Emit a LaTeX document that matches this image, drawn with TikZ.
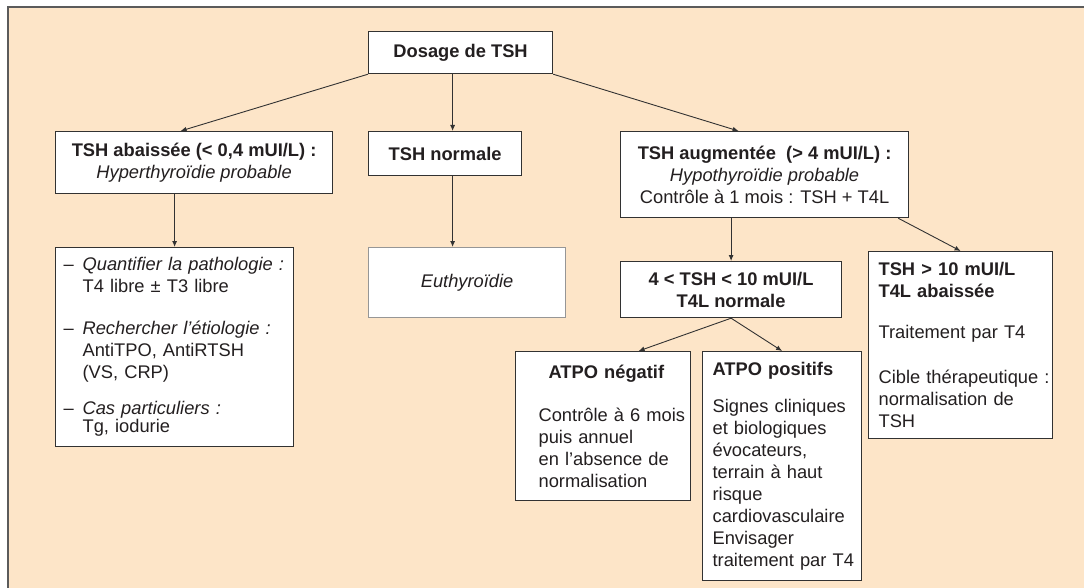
\documentclass[tikz,border=0pt]{standalone}
\usepackage{fontspec}
\setmainfont{Liberation Sans}
\usetikzlibrary{arrows.meta}

\definecolor{peach}{RGB}{253,229,200}
\definecolor{ink}{RGB}{35,31,32}
\definecolor{rule}{RGB}{50,50,50}
\definecolor{lightrule}{RGB}{150,150,150}

\tikzset{
	box/.style={draw=rule, line width=1.2pt, fill=white, anchor=north west, inner sep=0pt, text=ink, font=\fontsize{18.3}{22}\selectfont},
	link/.style={draw=rule, line width=0.9pt, -{Latex[length=6pt,width=5pt]}},
	frame/.style={draw=rule!80, line width=1.2pt}
}

\begin{document}
\begin{tikzpicture}[x=1pt,y=-1pt]
		\useasboundingbox (0,0) rectangle (1084,588);
		\fill[peach] (8,7) rectangle (1084,588);
		\draw[frame] (8,588) -- (8,7) -- (1084,7);
		\node[box, minimum width=184, minimum height=42] (dosage) at (368,31) {\bfseries Dosage de TSH};
		\node[box, minimum width=277, minimum height=62, align=center] (bas) at (55,131) {{\bfseries TSH abaissée (< 0,4 mUI/L) :}\\{\itshape Hyperthyroïdie probable}};
		\node[box, minimum width=153, minimum height=44] (normale) at (368,131) {\bfseries TSH normale};
		\node[box, minimum width=288, minimum height=86, align=center] (haut) at (620,131) {{\bfseries TSH augmentée~ (> 4 mUI/L) :}\\{\itshape Hypothyroïdie probable}\\Contrôle à 1 mois : TSH + T4L};
		\node[box, text width=222, inner xsep=8, minimum height=199, align=left] (bilan) at (55,247) {\makebox[19pt][l]{–}\textit{Quantifier la pathologie :}\\\hspace*{19pt}T4 libre ± T3 libre\\[20pt]\makebox[19pt][l]{–}\textit{Rechercher l'étiologie :}\\\hspace*{19pt}AntiTPO, AntiRTSH\\\hspace*{19pt}(VS, CRP)\\[14pt]\makebox[19pt][l]{–}\textit{Cas particuliers :}\\[-4pt]\hspace*{19pt}Tg, iodurie};
		\node[box, draw=lightrule, minimum width=197, minimum height=70] (euthy) at (368,247) {\itshape Euthyroïdie};
		\node[box, minimum width=221, minimum height=56, align=center] (modere) at (620,261) {\bfseries 4 < TSH < 10 mUI/L\\\bfseries T4L normale};
		\node[box, text width=164, inner xsep=10, minimum height=187, align=left] (severe) at (868,251) {\textbf{TSH > 10 mUI/L}\\\textbf{T4L abaissée}\\[19pt]Traitement par T4\\[23pt]\mbox{Cible thérapeutique :}\\normalisation de\\TSH};
		\node[box, text width=129, inner xsep=23, minimum height=149, align=left] (neg) at (515,351) {\hspace*{10pt}\textbf{ATPO négatif}\\[21pt]\mbox{Contrôle à 6 mois}\\puis annuel\\\mbox{en l'absence de}\\\mbox{normalisation}};
		\node[box, text width=139, inner xsep=10, minimum height=229, align=left] (pos) at (702,351) {\textbf{ATPO positifs}\\[15pt]\mbox{Signes cliniques}\\et biologiques\\évocateurs,\\terrain à haut\\risque\\\mbox{cardiovasculaire}\\Envisager\\\mbox{traitement par T4}};
		\draw[link] (dosage.south west) -- ([xshift=-13.5pt]bas.north);
		\draw[link] ([xshift=-8pt]dosage.south) -- ([xshift=-8pt]dosage.south |- normale.north);
		\draw[link] (dosage.south east) -- ([xshift=-26pt]haut.north);
		\draw[link] (bas.south -| bilan.north) -- (bilan.north);
		\draw[link] ([xshift=7.5pt]normale.south) -- ([xshift=7.5pt]normale.south |- euthy.north);
		\draw[link] (haut.south -| modere.north) -- (modere.north);
		\draw[link] ([xshift=-11pt]haut.south east) -- (severe.north);
		\draw[link] (modere.south) -- ([xshift=35.5pt]neg.north);
		\draw[link] (modere.south) -- (pos.north);
	\end{tikzpicture}
\end{document}
